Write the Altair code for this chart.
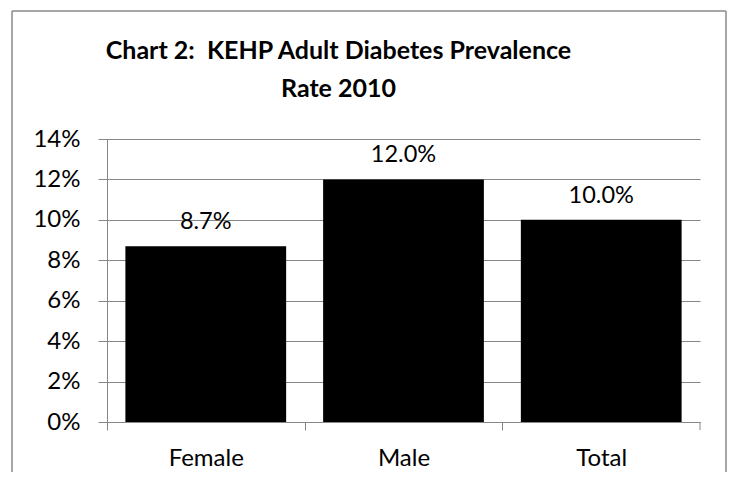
import altair as alt
import pandas as pd

categories = ["Female", "Male", "Total"]
rates = [8.7, 12.0, 10.0]
labels = ["8.7%", "12.0%", "10.0%"]
y_ticks = [0, 2, 4, 6, 8, 10, 12, 14]
title_lines = ["Chart 2:\u00a0 KEHP Adult Diabetes Prevalence", "Rate 2010"]

df = pd.DataFrame({"cat": categories, "rate": rates, "label": labels})

FONT = "Lato"
GRID = "#868686"
FRAME = "#8a8a8a"
W, H = 593, 283
P_IN, P_OUT = 0.187, 0.093
STEP = W / (len(categories) - P_IN + 2 * P_OUT)

x = alt.X(
    "cat:N", sort=categories, title=None,
    scale=alt.Scale(paddingInner=P_IN, paddingOuter=P_OUT),
    axis=alt.Axis(labelAngle=0, labelFontSize=24, labelFont=FONT, labelColor="#000",
                  labelPadding=16, tickSize=8, tickColor=GRID,
                  tickOffset=-STEP / 2, labelOffset=STEP / 2,
                  domainColor=GRID, grid=False),
)
y = alt.Y(
    "rate:Q", title=None, scale=alt.Scale(domain=[0, 14], nice=False),
    axis=alt.Axis(values=y_ticks, labelExpr="datum.value + '%'", labelFontSize=24,
                  labelFont=FONT, labelColor="#000", labelPadding=18, tickSize=9,
                  tickColor=GRID, domainColor=GRID, grid=True, gridColor=GRID,
                  gridOpacity=1),
)

base = alt.Chart(df)
bars = base.mark_bar(color="black").encode(x=x, y=y)
text = base.mark_text(dy=-17, baseline="alphabetic", fontSize=23.5, font=FONT,
                      color="black").encode(x=x, y=y, text="label:N")

one = alt.Data(values=[{"k": 1}])
end_tick = alt.Chart(one).mark_rule(color=GRID, strokeWidth=1).encode(
    x=alt.value(W), y=alt.value(H), y2=alt.value(H + 8))
frame_left = alt.Chart(one).mark_rule(color=FRAME, strokeWidth=1.5).encode(
    x=alt.value(-95), y=alt.value(-128), y2=alt.value(345))
frame_right = alt.Chart(one).mark_rule(color=FRAME, strokeWidth=1.5).encode(
    x=alt.value(619), y=alt.value(-128), y2=alt.value(345))
frame_top = alt.Chart(one).mark_rule(color=FRAME, strokeWidth=1.5).encode(
    x=alt.value(-95), x2=alt.value(619), y=alt.value(-128))

chart = alt.layer(bars, text, end_tick, frame_left, frame_right, frame_top).properties(
    width=W, height=H,
    autosize="none",
    padding={"left": 99, "top": 131, "right": 27, "bottom": 50},
    title=alt.TitleParams(text=title_lines, font=FONT, fontSize=25, fontWeight="bold",
                          color="black", anchor="middle", dx=-65, offset=-92,
                          lineHeight=38.5),
).configure_view(strokeWidth=0)

chart.save("out.html", embed_options={"renderer": "svg", "actions": False})
